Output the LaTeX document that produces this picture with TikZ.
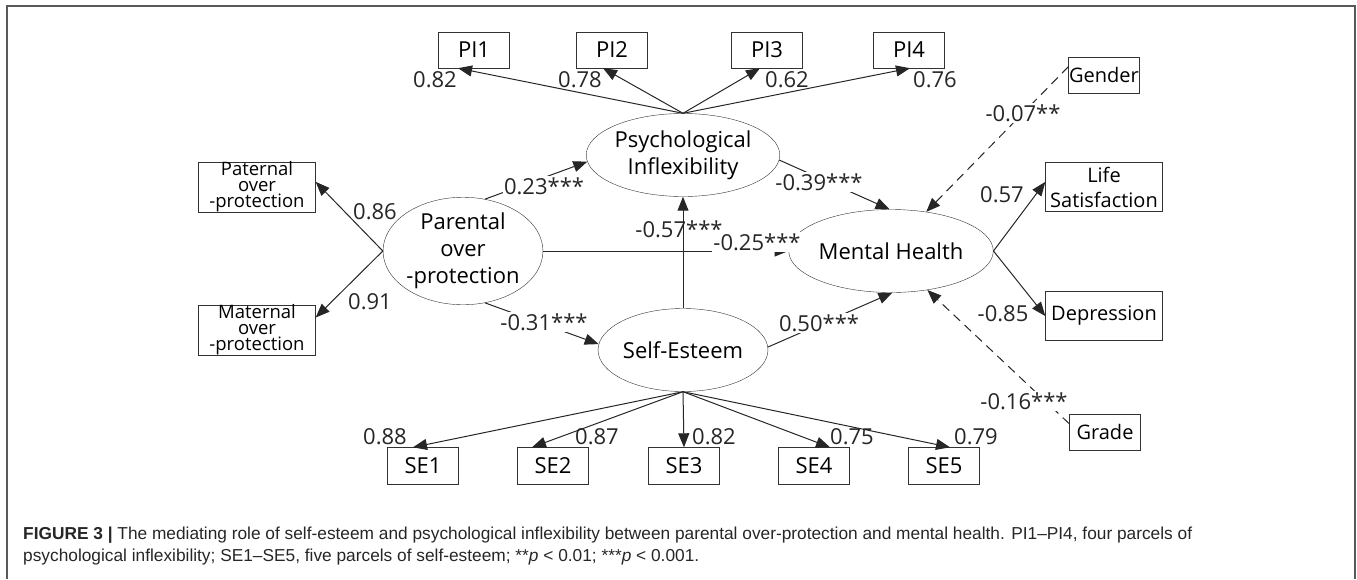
\documentclass[tikz,border=0pt]{standalone}
\usepackage{fontspec}
\setmainfont{Open Sans}
\newfontfamily\capfont{Liberation Sans}
\usepackage{tikz}
\usetikzlibrary{
  arrows.meta,
  shapes.geometric,
  calc}

\tikzset{
  latent/.style={draw=black!80, ellipse, minimum width=158pt, minimum height=83pt,
    inner sep=0pt, align=center, font=\fontsize{22}{27}\selectfont},
  obs/.style={draw=black!80, rectangle, minimum width=71pt, minimum height=36pt,
    inner sep=0pt, align=center, font=\fontsize{22}{26}\selectfont},
  widebox/.style={obs, minimum width=117pt, minimum height=49pt,
    font=\fontsize{20}{25}\selectfont},
  coef/.style={font=\fontsize{22}{26}\selectfont, inner sep=1pt, text=black!85},
  onpath/.style={coef, fill=white},
  link/.style={draw=black!85, line width=1pt, -{Triangle[length=14pt,width=11pt]}},
  covlink/.style={link, dash pattern=on 9pt off 6pt}
}

\begin{document}
\begin{tikzpicture}[x=1pt, y=-1pt]
  \useasboundingbox (0,0) rectangle (1357,579);
  \draw[black!65, line width=1.5pt] (7,579) -- (7,6) -- (1355,6) -- (1355,579);

  % latent variables
  \node[latent] (psy) at (683,155) {Psychological\\Inflexibility};
  \node[latent] (par) at (463,251) {\fontsize{22}{20}\selectfont Parental\\over\\-protection};
  \node[latent] (se) at (683,350) {Self-Esteem};
  \node[latent] (mh) at (891,251) {Mental Health};

  % indicators
  \foreach \i/\x in {1/474,2/612,3/767,4/909}
    \node[obs] (pi\i) at (\x,50) {PI\i};
  \foreach \i/\x in {1/423,2/553,3/684,4/814,5/944}
    \node[obs, minimum height=37pt] (se\i) at (\x,466) {SE\i};
  \node[widebox, font=\fontsize{18.5}{16}\selectfont] (pat) at (257,187) {Paternal\\over\\-protection};
  \node[widebox, font=\fontsize{18.5}{16}\selectfont] (mat) at (257,330) {Maternal\\over\\-protection};
  \node[widebox] (life) at (1104,187) {Life\\Satisfaction};
  \node[widebox] (dep) at (1104,316) {Depression};
  \node[obs, font=\fontsize{20}{24}\selectfont] (gen) at (1104,75) {Gender};
  \node[obs, font=\fontsize{20}{24}\selectfont] (grade) at (1105,432) {Grade};

  % loadings
  \foreach \i/\dx in {1/-16,2/-9,3/-7,4/1}
    \draw[link] (psy.north) -- ([xshift=\dx pt]pi\i.south);
  \foreach \i/\dx in {1/-10,2/-21,3/0,4/16,5/6}
    \draw[link] (se.south) -- ([xshift=\dx pt]se\i.north);
  \draw[link] (par.west) -- (pat.5);
  \draw[link] (par.west) -- (mat.12);
  \draw[link] (mh.east) -- (life.175);
  \draw[link] (mh.east) -- (dep.west);

  % structural paths
  \draw[link] (par.67) -- (psy.184);
  \draw[link] (par.-67) -- (se.176);
  \draw[link] (par.east) -- (mh.west);
  \draw[link] (se.north) -- (psy.south);
  \draw[link] (psy.-3) -- (mh.92);
  \draw[link] (se.2) -- (mh.-88);
  \draw[covlink] (gen.167) -- (mh.48);
  \draw[covlink] (grade.167) -- (mh.-47);

  % coefficients
  \node[coef] (c82) at (435,80) {0.82};
  \node[coef] (c78) at (580,80) {0.78};
  \node[coef] (c62) at (787,80) {0.62};
  \node[coef] (c76) at (935,80) {0.76};
  \node[coef] (c86) at (375,212) {0.86};
  \node[coef] (c91) at (370,302) {0.91};
  \node[onpath] (c23) at (544,186) {0.23***};
  \node[onpath] (c31) at (544,322) {-0.31***};
  \node[onpath] (c25) at (757,242) {-0.25***};
  \node[coef] (c57) at (679,229) {-0.57***};
  \node[onpath] (c39) at (819,182) {-0.39***};
  \node[onpath] (c50) at (819,323) {0.50***};
  \node[coef] (c57b) at (1002,195) {0.57};
  \node[coef] (c85) at (1003,314) {-0.85};
  \node[onpath] (c07) at (1023,113) {-0.07**};
  \node[onpath] (c16) at (1024,401) {-0.16***};
  \node[coef] (c88) at (385,437) {0.88};
  \node[coef] (c87) at (597,437) {0.87};
  \node[coef] (c82b) at (714,437) {0.82};
  \node[coef] (c75) at (852,437) {0.75};
  \node[coef] (c79) at (976,437) {0.79};

  % caption
  \node[anchor=base west, inner sep=0pt, text=black!85, font=\capfont\fontsize{17.3}{21}\selectfont] (cap1) at (23,539)
    {\textbf{FIGURE 3 |} The mediating role of self-esteem and psychological inflexibility between parental over-protection and mental health. PI1–PI4, four parcels of};
  \node[anchor=base west, inner sep=0pt, text=black!85, font=\capfont\fontsize{17.3}{21}\selectfont] (cap2) at (23,561)
    {psychological inflexibility; SE1–SE5, five parcels of self-esteem; **\textit{p} < 0.01; ***\textit{p} < 0.001.};
\end{tikzpicture}
\end{document}
